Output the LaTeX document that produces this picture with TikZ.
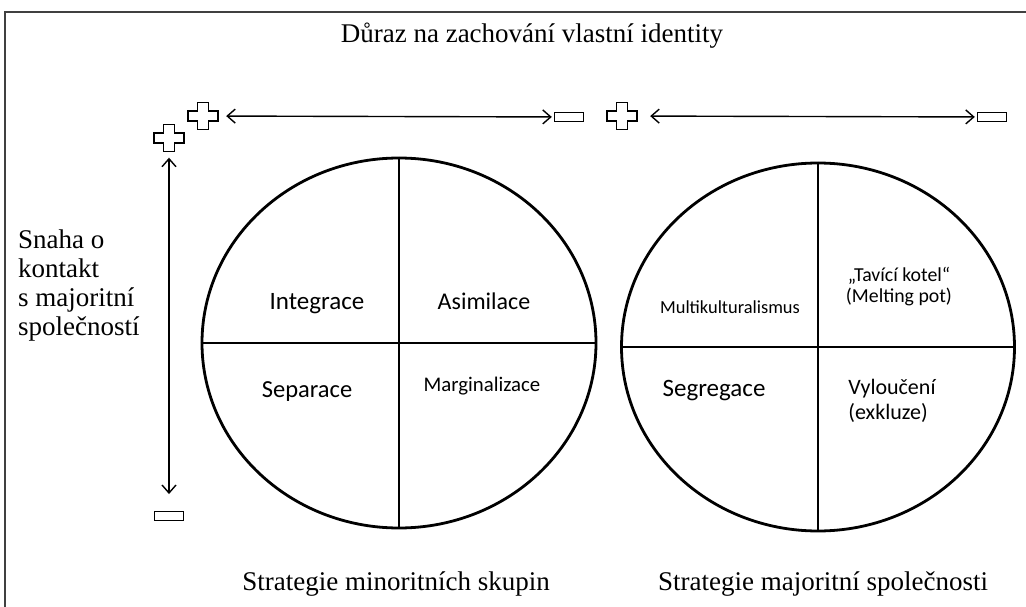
\documentclass[tikz,border=0pt]{standalone}
\usepackage{fontspec}
\setmainfont{Liberation Serif}
\newfontfamily\calibri{Carlito}
\usetikzlibrary{shapes, arrows.meta, positioning}

\begin{document}
\begin{tikzpicture}[
  x=1pt, y=-1pt,
  >={Straight Barb[length=8pt, width=14pt]},
  ring/.style={ellipse, draw, line width=2.8pt, minimum width=394pt, minimum height=370pt, inner sep=0pt},
  split/.style={line width=1.2pt},
  plussign/.style={rectangle, minimum width=36pt, minimum height=33pt, inner sep=0pt,
    path picture={\draw[line width=1.5pt, shift={(path picture bounding box.center)}]
      (-5.5,-13.5) -- (5.5,-13.5) -- (5.5,-5) -- (15,-5) -- (15,5) -- (5.5,5) -- (5.5,13.5)
      -- (-5.5,13.5) -- (-5.5,5) -- (-15,5) -- (-15,-5) -- (-5.5,-5) -- cycle;}},
  minussign/.style={rectangle, draw, line width=1.4pt, minimum width=29pt, minimum height=8.5pt, inner sep=0pt},
  axis/.style={<->, line width=1.4pt},
  heading/.style={font=\fontsize{27}{29}\selectfont, inner sep=0pt},
  quad/.style={font=\calibri\fontsize{24.5}{27}\selectfont, inner sep=0pt, anchor=base}
]
  \useasboundingbox (0,0) rectangle (1026,607);
  \draw[line width=1.3pt, black!75] (5,607) -- (5,12) -- (1026,12);

  \node[heading] (title) at (532,36) {Důraz na zachování vlastní identity};

  \node[plussign] (plusA) at (203,116) {};
  \node[minussign] (minusA) at (569,117) {};
  \node[plussign] (plusB) at (622,116) {};
  \node[minussign] (minusB) at (992,117) {};
  \node[plussign] (plusC) at (169,138) {};
  \node[minussign] (minusC) at (169,516) {};
  \draw[axis, shorten <=5pt, shorten >=2pt] (plusA) -- (minusA);
  \draw[axis, shorten <=10pt, shorten >=2pt] (plusB) -- (minusB);
  \draw[axis, shorten <=3pt, shorten >=17pt] (plusC) -- (minusC);

  \node[heading, align=left, anchor=north west] (snaha) at (18,230) {Snaha o\\kontakt\\s majoritní\\společností};

  \node[ring] (minor) at (399,343) {};
  \draw[split] (minor.north) -- (minor.south);
  \draw[split] (minor.west) -- (minor.east);
  \node[ring, minimum height=368pt, minimum width=393pt] (major) at (818,347) {};
  \draw[split] (major.north) -- (major.south);
  \draw[split] (major.west) -- (major.east);

  \node[quad, font=\calibri\fontsize{25}{27}\selectfont] (integ) at (317,309) {Integrace};
  \node[quad, font=\calibri\fontsize{24}{27}\selectfont] (asim) at (484,309) {Asimilace};
  \node[quad] (separ) at (307,397) {Separace};
  \node[quad, font=\calibri\fontsize{20.8}{23}\selectfont] (margin) at (482,391) {Marginalizace};
  \node[quad, font=\calibri\fontsize{18.4}{20}\selectfont] (multi) at (730,313) {Multikulturalismus};
  \node[quad, font=\calibri\fontsize{19.8}{21}\selectfont, align=center, anchor=center] (kotel) at (899,287) {„Tavící kotel“\\(Melting pot)};
  \node[quad, font=\calibri\fontsize{25}{27}\selectfont] (segreg) at (714,396) {Segregace};
  \node[quad, font=\calibri\fontsize{22}{25}\selectfont, align=left, anchor=center] (vylouc) at (892,401) {Vyloučení\\(exkluze)};

  \node[heading] (minorlbl) at (396,584) {Strategie minoritních skupin};
  \node[heading] (majorlbl) at (823,584) {Strategie majoritní společnosti};
\end{tikzpicture}
\end{document}
